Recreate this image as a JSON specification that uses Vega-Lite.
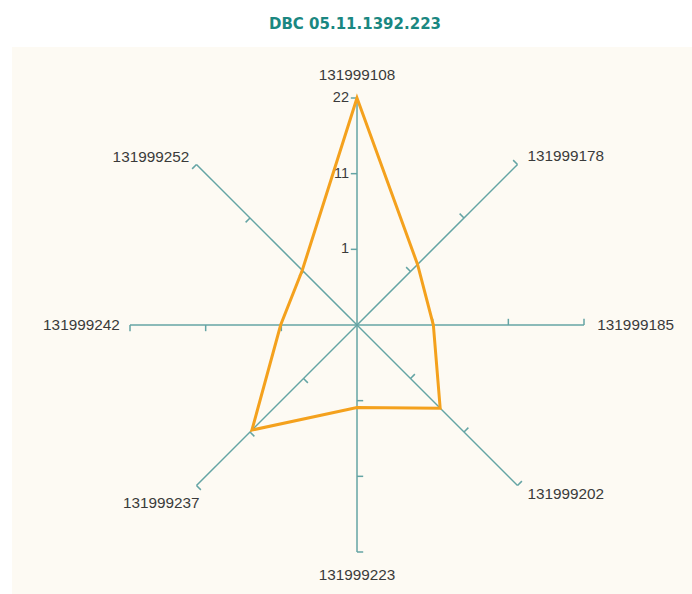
{
  "$schema": "https://vega.github.io/schema/vega-lite/v6.json",
  "width": 680,
  "height": 547,
  "autosize": "none",
  "padding": {"left": 12, "top": 47, "right": 0, "bottom": 0},
  "background": "white",
  "config": {"view": {"fill": "#fdfaf3", "stroke": null}},
  "title": {"text": "DBC 05.11.1392.223", "font": "DejaVu Sans", "fontSize": 15, "fontWeight": "bold", "color": "#1a8781", "offset": 15, "anchor": "middle", "dx": 3},
  "datasets": {
    "spokes": [
      {"axis": "131999108", "idx": 0, "levels": [7.333, 14.667, 22]},
      {"axis": "131999178", "idx": 1, "levels": [7.333, 14.667, 22]},
      {"axis": "131999185", "idx": 2, "levels": [7.333, 14.667, 22]},
      {"axis": "131999202", "idx": 3, "levels": [7.333, 14.667, 22]},
      {"axis": "131999223", "idx": 4, "levels": [7.333, 14.667, 22]},
      {"axis": "131999237", "idx": 5, "levels": [7.333, 14.667, 22]},
      {"axis": "131999242", "idx": 6, "levels": [7.333, 14.667, 22]},
      {"axis": "131999252", "idx": 7, "levels": [7.333, 14.667, 22]}
    ],
    "scores": [
      {"axis": "131999108", "idx": 0, "value": 22},
      {"axis": "131999178", "idx": 1, "value": 8.3},
      {"axis": "131999185", "idx": 2, "value": 7.4},
      {"axis": "131999202", "idx": 3, "value": 11.4},
      {"axis": "131999223", "idx": 4, "value": 8.0},
      {"axis": "131999237", "idx": 5, "value": 14.4},
      {"axis": "131999242", "idx": 6, "value": 7.4},
      {"axis": "131999252", "idx": 7, "value": 7.5}
    ],
    "scaleTicks": [
      {"level": 7.333, "label": "1"},
      {"level": 14.667, "label": "11"},
      {"level": 22, "label": "22"}
    ]
  },
  "layer": [
    {
      "data": {"name": "spokes"},
      "transform": [
        {"calculate": "PI/2 - datum.idx*PI/4", "as": "theta"},
        {"calculate": "22*cos(datum.theta)", "as": "ex"},
        {"calculate": "22*sin(datum.theta)", "as": "ey"}
      ],
      "mark": {"type": "rule", "color": "#64a4a4", "strokeWidth": 1.5},
      "encoding": {
        "x": {"field": "ex", "type": "quantitative", "scale": {"domain": [-33.437, 32.467], "nice": false, "zero": false}, "axis": null},
        "y": {"field": "ey", "type": "quantitative", "scale": {"domain": [-26.071, 26.943], "nice": false, "zero": false}, "axis": null},
        "x2": {"datum": 0},
        "y2": {"datum": 0}
      }
    },
    {
      "data": {"name": "spokes"},
      "transform": [
        {"flatten": ["levels"], "as": ["level"]},
        {"calculate": "PI/2 - datum.idx*PI/4", "as": "theta"},
        {"calculate": "datum.level*cos(datum.theta)", "as": "px"},
        {"calculate": "datum.level*sin(datum.theta)", "as": "py"},
        {"calculate": "datum.px - 0.6*sin(datum.theta)", "as": "tx"},
        {"calculate": "datum.py + 0.6*cos(datum.theta)", "as": "ty"}
      ],
      "mark": {"type": "rule", "color": "#64a4a4", "strokeWidth": 1.5},
      "encoding": {
        "x": {"field": "px", "type": "quantitative", "scale": {"domain": [-33.437, 32.467], "nice": false, "zero": false}, "axis": null},
        "y": {"field": "py", "type": "quantitative", "scale": {"domain": [-26.071, 26.943], "nice": false, "zero": false}, "axis": null},
        "x2": {"field": "tx"},
        "y2": {"field": "ty"}
      }
    },
    {
      "data": {"name": "scores"},
      "transform": [
        {"calculate": "PI/2 - datum.idx*PI/4", "as": "theta"},
        {"calculate": "datum.value*cos(datum.theta)", "as": "vx"},
        {"calculate": "datum.value*sin(datum.theta)", "as": "vy"}
      ],
      "mark": {"type": "line", "color": "#f4a11d", "strokeWidth": 3, "interpolate": "linear-closed"},
      "encoding": {
        "x": {"field": "vx", "type": "quantitative", "scale": {"domain": [-33.437, 32.467], "nice": false, "zero": false}, "axis": null},
        "y": {"field": "vy", "type": "quantitative", "scale": {"domain": [-26.071, 26.943], "nice": false, "zero": false}, "axis": null},
        "order": {"field": "idx", "type": "quantitative"}
      }
    },
    {
      "data": {"name": "scaleTicks"},
      "mark": {"type": "text", "align": "right", "baseline": "middle", "dx": -8, "font": "Liberation Sans", "fontSize": 14.5, "color": "#3a3a3a"},
      "encoding": {
        "x": {"datum": 0, "type": "quantitative", "scale": {"domain": [-33.437, 32.467], "nice": false, "zero": false}, "axis": null},
        "y": {"field": "level", "type": "quantitative", "scale": {"domain": [-26.071, 26.943], "nice": false, "zero": false}, "axis": null},
        "text": {"field": "label"}
      }
    },
    {
      "data": {"name": "spokes"},
      "transform": [
        {"filter": "datum.idx == 0 || datum.idx == 4"},
        {"calculate": "PI/2 - datum.idx*PI/4", "as": "theta"},
        {"calculate": "24.2*cos(datum.theta)", "as": "lx"},
        {"calculate": "24.2*sin(datum.theta)", "as": "ly"}
      ],
      "mark": {"type": "text", "align": "center", "baseline": "middle", "font": "Liberation Sans", "fontSize": 15.3, "color": "#3a3a3a"},
      "encoding": {
        "x": {"field": "lx", "type": "quantitative", "scale": {"domain": [-33.437, 32.467], "nice": false, "zero": false}, "axis": null},
        "y": {"field": "ly", "type": "quantitative", "scale": {"domain": [-26.071, 26.943], "nice": false, "zero": false}, "axis": null},
        "text": {"field": "axis"}
      }
    },
    {
      "data": {"name": "spokes"},
      "transform": [
        {"filter": "datum.idx >= 1 && datum.idx <= 3"},
        {"calculate": "PI/2 - datum.idx*PI/4", "as": "theta"},
        {"calculate": "23.1*cos(datum.theta)", "as": "lx"},
        {"calculate": "23.1*sin(datum.theta)", "as": "ly"}
      ],
      "mark": {"type": "text", "align": "left", "baseline": "middle", "dx": 2, "font": "Liberation Sans", "fontSize": 15.3, "color": "#3a3a3a"},
      "encoding": {
        "x": {"field": "lx", "type": "quantitative", "scale": {"domain": [-33.437, 32.467], "nice": false, "zero": false}, "axis": null},
        "y": {"field": "ly", "type": "quantitative", "scale": {"domain": [-26.071, 26.943], "nice": false, "zero": false}, "axis": null},
        "text": {"field": "axis"}
      }
    },
    {
      "data": {"name": "spokes"},
      "transform": [
        {"filter": "datum.idx == 6 || datum.idx == 7"},
        {"calculate": "PI/2 - datum.idx*PI/4", "as": "theta"},
        {"calculate": "23.0*cos(datum.theta)", "as": "lx"},
        {"calculate": "23.0*sin(datum.theta)", "as": "ly"}
      ],
      "mark": {"type": "text", "align": "right", "baseline": "middle", "font": "Liberation Sans", "fontSize": 15.3, "color": "#3a3a3a"},
      "encoding": {
        "x": {"field": "lx", "type": "quantitative", "scale": {"domain": [-33.437, 32.467], "nice": false, "zero": false}, "axis": null},
        "y": {"field": "ly", "type": "quantitative", "scale": {"domain": [-26.071, 26.943], "nice": false, "zero": false}, "axis": null},
        "text": {"field": "axis"}
      }
    },
    {
      "data": {"name": "spokes"},
      "transform": [
        {"filter": "datum.idx == 5"},
        {"calculate": "PI/2 - datum.idx*PI/4", "as": "theta"},
        {"calculate": "22*cos(datum.theta)", "as": "lx"},
        {"calculate": "22*sin(datum.theta)", "as": "ly"}
      ],
      "mark": {"type": "text", "align": "right", "baseline": "middle", "dx": 3, "dy": 17, "font": "Liberation Sans", "fontSize": 15.3, "color": "#3a3a3a"},
      "encoding": {
        "x": {"field": "lx", "type": "quantitative", "scale": {"domain": [-33.437, 32.467], "nice": false, "zero": false}, "axis": null},
        "y": {"field": "ly", "type": "quantitative", "scale": {"domain": [-26.071, 26.943], "nice": false, "zero": false}, "axis": null},
        "text": {"field": "axis"}
      }
    }
  ]
}
